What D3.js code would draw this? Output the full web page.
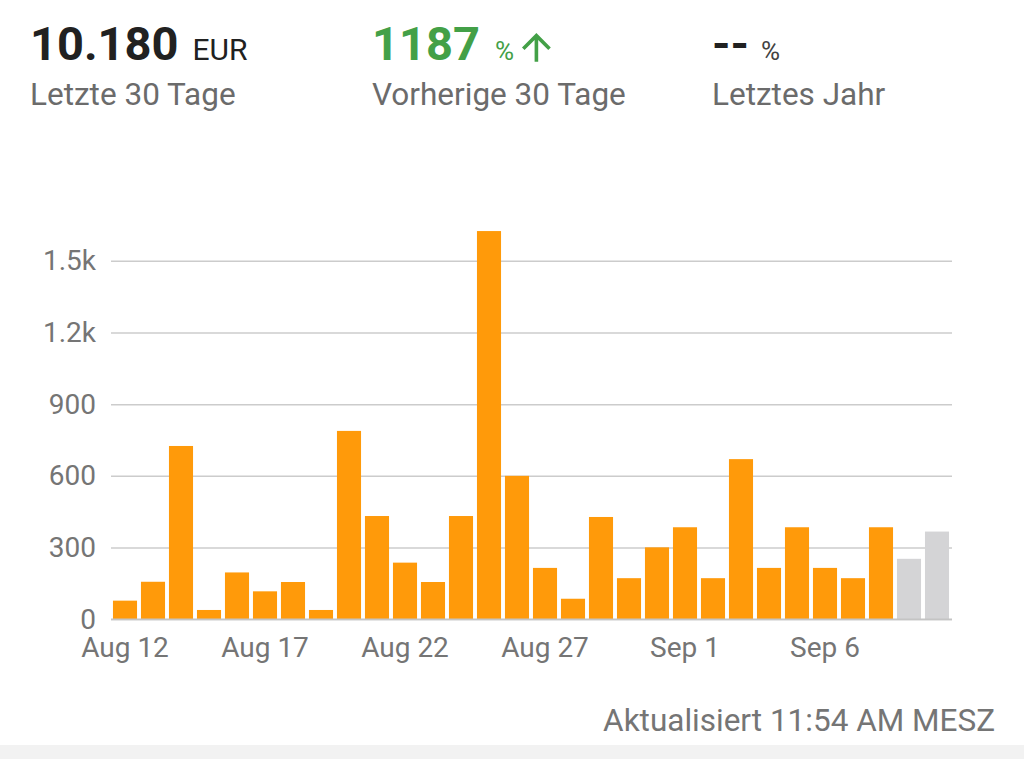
<!DOCTYPE html>
<html>
<head>
<meta charset="utf-8">
<style>
  body { margin: 0; background: #fff; }
  text { font-family: Roboto, "Noto Sans", sans-serif; }
</style>
</head>
<body>
<script src="https://cdn.jsdelivr.net/npm/d3@7/dist/d3.min.js"></script>
<script>
// *** DATA ***
var days = ["Aug 12","Aug 13","Aug 14","Aug 15","Aug 16","Aug 17","Aug 18","Aug 19","Aug 20","Aug 21",
            "Aug 22","Aug 23","Aug 24","Aug 25","Aug 26","Aug 27","Aug 28","Aug 29","Aug 30","Aug 31",
            "Sep 1","Sep 2","Sep 3","Sep 4","Sep 5","Sep 6","Sep 7","Sep 8","Sep 9","Sep 10"];
var revenue = [78, 157, 725, 39, 196, 117, 156, 39, 788, 432,
               237, 156, 432, 1624, 600, 215, 86, 428, 172, 301,
               385, 172, 670, 215, 385, 215, 172, 385, 253, 367];
// last two days are still provisional (grey)
var provisional = [false,false,false,false,false,false,false,false,false,false,
                   false,false,false,false,false,false,false,false,false,false,
                   false,false,false,false,false,false,false,false,true,true];
var xTickLabels = ["Aug 12","Aug 17","Aug 22","Aug 27","Sep 1","Sep 6"];
var yTicks = [0, 300, 600, 900, 1200, 1500];
var yTickLabels = ["0","300","600","900","1.2k","1.5k"];

var W = 1024, H = 759;
var svg = d3.select("body").append("svg").attr("width", W).attr("height", H);

// *** HEADER ***
function stat(x, value, unit, label, color, unitColor, unitGap) {
  var t = svg.append("text").attr("x", x).attr("y", 60);
  t.append("tspan").text(value)
    .style("font-size", "47px").style("font-weight", "bold").style("fill", color);
  t.append("tspan").text(unit).attr("dx", unitGap)
    .style("font-size", unit == "EUR" ? "30px" : "26px").style("fill", unitColor);
  svg.append("text").attr("x", x).attr("y", 105).text(label)
    .style("font-size", "31.5px").style("fill", "#6b6b6b");
}
stat(30, "10.180", "EUR", "Letzte 30 Tage", "#212121", "#212121", 14);
stat(372, "1187", "%", "Vorherige 30 Tage", "#43a047", "#43a047", 15);
stat(712, "--", "%", "Letztes Jahr", "#212121", "#424242", 12);

// up arrow next to the percentage
svg.append("path")
  .attr("d", "M4 12l1.41 1.41L11 7.83V20h2V7.83l5.58 5.59L20 12l-8-8-8 8z")
  .attr("transform", "translate(514.8,25.8) scale(1.8)")
  .style("fill", "#43a047");

// *** CHART ***
var x = d3.scaleBand().domain(days).range([111, 951]).paddingInner(0.14).paddingOuter(0.07);
var y = d3.scaleLinear().domain([0, 1500]).range([619.3, 260.7]);

// grid + y labels
var yAxis = svg.append("g").attr("transform", "translate(111,0)")
  .call(d3.axisLeft(y).tickValues(yTicks).tickSize(-841)
    .tickFormat(function(d, i){ return yTickLabels[i]; }));
yAxis.select(".domain").remove();
yAxis.selectAll(".tick line").style("stroke", "#cccccc").style("stroke-width", 1.5);
yAxis.selectAll(".tick text").attr("x", -15)
  .style("font-size", "28px").style("fill", "#757575").style("font-family", "Roboto");

// bars
svg.selectAll("rect.bar").data(days).enter().append("rect")
  .attr("class", "bar")
  .attr("x", function(d){ return x(d); })
  .attr("width", x.bandwidth())
  .attr("y", function(d, i){ return y(revenue[i]); })
  .attr("height", function(d, i){ return y(0) - y(revenue[i]); })
  .style("fill", function(d, i){ return provisional[i] ? "#d4d4d6" : "#ff9a0a"; });

// zero line on top
svg.append("line").attr("x1", 111).attr("x2", 952).attr("y1", y(0)).attr("y2", y(0))
  .style("stroke", "#c4c4c4").style("stroke-width", 1.5);

// x labels
var xAxis = svg.append("g").attr("transform", "translate(0," + y(0) + ")")
  .call(d3.axisBottom(x).tickValues(xTickLabels).tickSize(0).tickPadding(18));
xAxis.select(".domain").remove();
xAxis.selectAll(".tick text")
  .style("font-size", "28px").style("fill", "#757575").style("font-family", "Roboto");

// *** FOOTER ***
svg.append("text").attr("x", 995).attr("y", 731).attr("text-anchor", "end")
  .text("Aktualisiert 11:54 AM MESZ")
  .style("font-size", "31.5px").style("fill", "#757575");
svg.append("rect").attr("x", 0).attr("y", 745).attr("width", W).attr("height", H - 745)
  .style("fill", "#f2f2f2");
</script>
</body>
</html>
